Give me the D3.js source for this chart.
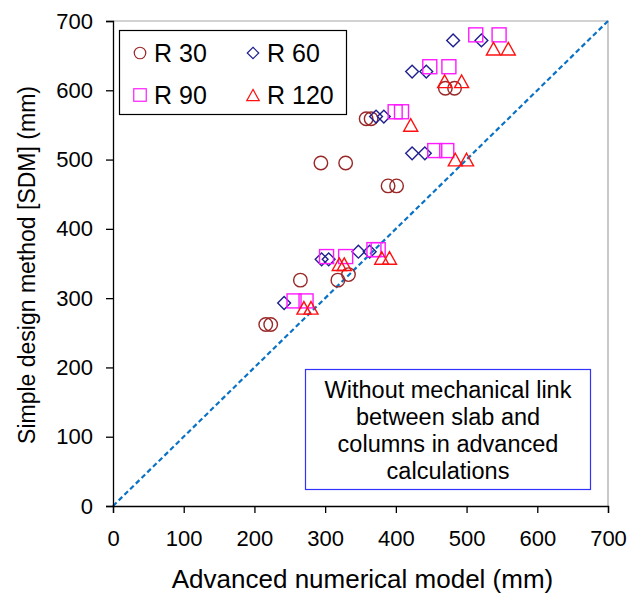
<!DOCTYPE html>
<html>
<head>
<meta charset="utf-8">
<script src="https://cdn.jsdelivr.net/npm/d3@7"></script>
<style>
  body { margin: 0; background: #fff; }
  svg text { font-family: "Liberation Sans", Arial, sans-serif; fill: #000; }
</style>
</head>
<body>
<div id="chart"></div>
<script>
// values: [advanced model, simple design method] in mm
var r30 = [[216,262],[223,262],[265,326],[318,326],[333,334],[294,495],[329,495],
           [389,462],[401,462],[358,559],[365,559],[470,603],[483,603]];
var r60 = [[242,293],[295,356],[305,356],[347,367],[363,367],[372,562],[383,562],
           [423,509],[441,509],[423,627],[443,627],[481,672],[521,672]];
var r90 = [[256,296],[273,296],[302,360],[329,360],[369,370],[375,370],[399,569],
           [408,569],[455,513],[472,513],[448,634],[475,634],[513,680],[546,680]];
var r120 = [[270,286],[280,286],[320,349],[327,349],[380,358],[391,358],[421,550],
            [469,613],[493,613],[484,500],[500,500],[538,660],[559,660]];
var ticks = [0,100,200,300,400,500,600,700];
var noteLines = ["Without mechanical link","between slab and","columns in advanced","calculations"];

var width = 628, height = 596;
var mLeft = 113, mTop = 21, mRight = 608, mBottom = 506;

var svg = d3.select("#chart").append("svg").attr("width",width).attr("height",height);

var x = d3.scaleLinear().domain([0,700]).range([mLeft,mRight]);
var y = d3.scaleLinear().domain([0,700]).range([mBottom,mTop]);

// plot frame (light grey on top/right)
svg.append("path")
  .attr("d","M"+mLeft+","+mTop+"H"+mRight+"V"+mBottom)
  .attr("fill","none").attr("stroke","#a6a6a6").attr("stroke-width",1.2);

// 1:1 line
svg.append("line")
  .attr("x1",x(0)).attr("y1",y(0)).attr("x2",x(700)).attr("y2",y(700))
  .attr("stroke","#0a72c4").attr("stroke-width",2.2).attr("stroke-dasharray","5,3");

var xAxis = d3.axisBottom(x).tickValues(ticks).tickSize(7).tickPadding(10);
var yAxis = d3.axisLeft(y).tickValues(ticks).tickSize(7).tickPadding(13);

var gx = svg.append("g").attr("transform","translate(0,"+mBottom+")").call(xAxis);
var gy = svg.append("g").attr("transform","translate("+mLeft+",0)").call(yAxis);
[gx,gy].forEach(function(g){
  g.selectAll("path,line").attr("stroke","#000").attr("stroke-width",1.3);
  g.selectAll("text").style("font-size","22px").attr("fill","#000");
});
gx.selectAll("text").attr("dy","1.05em");

svg.append("text").attr("x",(mLeft+mRight)/2 + 2).attr("y",588)
  .attr("text-anchor","middle").style("font-size","26px")
  .text("Advanced numerical model (mm)");
svg.append("text").attr("transform","translate(35,"+265+") rotate(-90)")
  .attr("text-anchor","middle").style("font-size","23px")
  .text("Simple design method [SDM] (mm)");

// markers
var sym = {
  circle: function(g,cx,cy,s){ g.append("circle").attr("cx",cx).attr("cy",cy).attr("r",s*0.5); },
  diamond: function(g,cx,cy,s){ var h=s*0.5;
    g.append("path").attr("d","M"+cx+","+(cy-h)+"L"+(cx+h)+","+cy+"L"+cx+","+(cy+h)+"L"+(cx-h)+","+cy+"Z"); },
  square: function(g,cx,cy,s){ g.append("rect").attr("x",cx-s/2).attr("y",cy-s/2).attr("width",s).attr("height",s); },
  triangle: function(g,cx,cy,s){ var h=s*0.45;
    g.append("path").attr("d","M"+cx+","+(cy-h)+"L"+(cx+s/2)+","+(cy+h)+"L"+(cx-s/2)+","+(cy+h)+"Z"); }
};

var series = [
  {name:"R 30", data:r30, shape:"circle", color:"#982828", size:13.5},
  {name:"R 60", data:r60, shape:"diamond", color:"#1f1f8f", size:12.8},
  {name:"R 90", data:r90, shape:"square", color:"#ff1aff", size:14},
  {name:"R 120", data:r120, shape:"triangle", color:"#ff1010", size:14}
];

series.forEach(function(s){
  var g = svg.append("g").attr("fill","none").attr("stroke",s.color).attr("stroke-width",1.4);
  s.data.forEach(function(d){ sym[s.shape](g, x(d[0]), y(d[1]), s.size); });
});

// legend
var leg = svg.append("g");
leg.append("rect").attr("x",119.5).attr("y",30.5).attr("width",227).attr("height",84)
  .attr("fill","#fff").attr("stroke","#000").attr("stroke-width",1.2);
var legPos = [[140,53],[253,53],[140,95],[253,95]];
series.forEach(function(s,i){
  var g = leg.append("g").attr("fill","none").attr("stroke",s.color).attr("stroke-width",1.2);
  sym[s.shape](g, legPos[i][0], legPos[i][1], s.shape=="diamond"?11.5:(s.shape=="circle"?11.5:12.5));
  leg.append("text").attr("x",legPos[i][0]+14).attr("y",legPos[i][1]+9)
    .style("font-size","25px").text(s.name);
});

// note box
var note = svg.append("g");
note.append("rect").attr("x",305.5).attr("y",369.5).attr("width",285).attr("height",120)
  .attr("fill","#fff").attr("stroke","#3333ff").attr("stroke-width",1.2);
note.selectAll("text").data(noteLines).enter().append("text")
  .attr("x",448).attr("y",function(d,i){ return 398 + i*27; })
  .attr("text-anchor","middle").style("font-size","23.5px")
  .text(function(d){ return d; });
</script>
</body>
</html>
